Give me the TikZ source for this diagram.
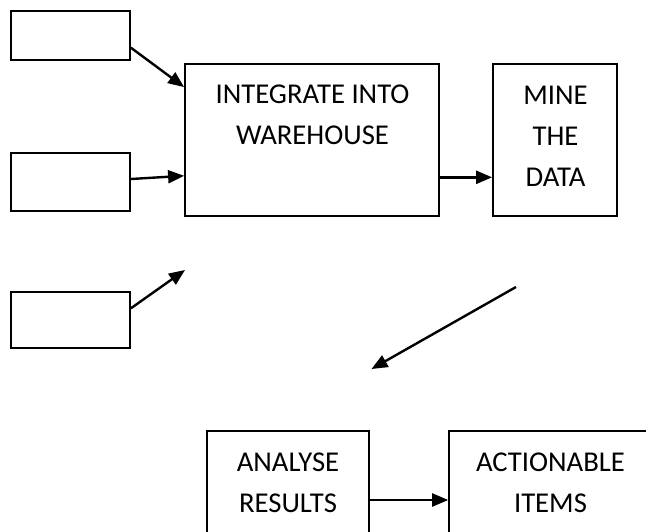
\documentclass[tikz,border=0pt]{standalone}
\usepackage{fontspec}
\setmainfont{Carlito}
\usetikzlibrary{arrows.meta}
\begin{document}
\begin{tikzpicture}[x=1pt,y=-1pt,
  box/.style={draw, line width=1.8pt, rectangle, inner sep=0pt},
  lbl/.style={align=center, inner sep=0pt, font=\fontsize{28.7}{41}\selectfont},
  arr/.style={line width=2.4pt, -{Triangle[length=16pt,width=13pt]}}]
\useasboundingbox (0,0) rectangle (646,531);
\clip (0,0) rectangle (646,531);

% source boxes on the left
\node[box, minimum width=119pt, minimum height=49pt]   (s1) at (70.5,35.5) {};
\node[box, minimum width=119pt, minimum height=58pt]   (s2) at (70.5,181.7) {};
\node[box, minimum width=119pt, minimum height=56.6pt] (s3) at (70.5,320) {};

% main process boxes
\node[box, minimum width=254pt, minimum height=152pt] (integ) at (312,140) {};
\node[lbl] (integtxt) at (312.5,114.5) {INTEGRATE INTO\\WAREHOUSE};

\node[box, minimum width=124pt, minimum height=152pt] (mine) at (555,140) {};
\node[lbl] (minetxt) at (555.5,136) {MINE\\THE\\DATA};

\node[box, minimum width=162pt, minimum height=119pt] (an) at (288.3,490.5) {};
\node[lbl] (antxt) at (288,482.5) {ANALYSE\\RESULTS};

\node[box, minimum width=231pt, minimum height=119pt] (act) at (564.6,490.5) {};
\node[lbl] (acttxt) at (550.5,482.5) {ACTIONABLE\\ITEMS};

% free arrow ends
\coordinate (p3) at (185,270);
\coordinate (d1) at (516,287);
\coordinate (d2) at (371.5,369);

% connectors
\draw[arr] ([yshift=-12.2pt]s1.east) -- ([yshift=-24pt]integ.north west);
\draw[arr] ([yshift=2.7pt]s2.east) -- ([yshift=-112.7pt]integ.north west);
\draw[arr] ([yshift=11.7pt]s3.east) -- (p3);
\draw[arr] ([yshift=-37.3pt]integ.east) -- ([yshift=-37.3pt]mine.west);
\draw[arr] (d1) -- (d2);
\draw[arr] ([yshift=-9.5pt]an.east) -- ([yshift=-9.5pt]act.west);
\end{tikzpicture}
\end{document}
